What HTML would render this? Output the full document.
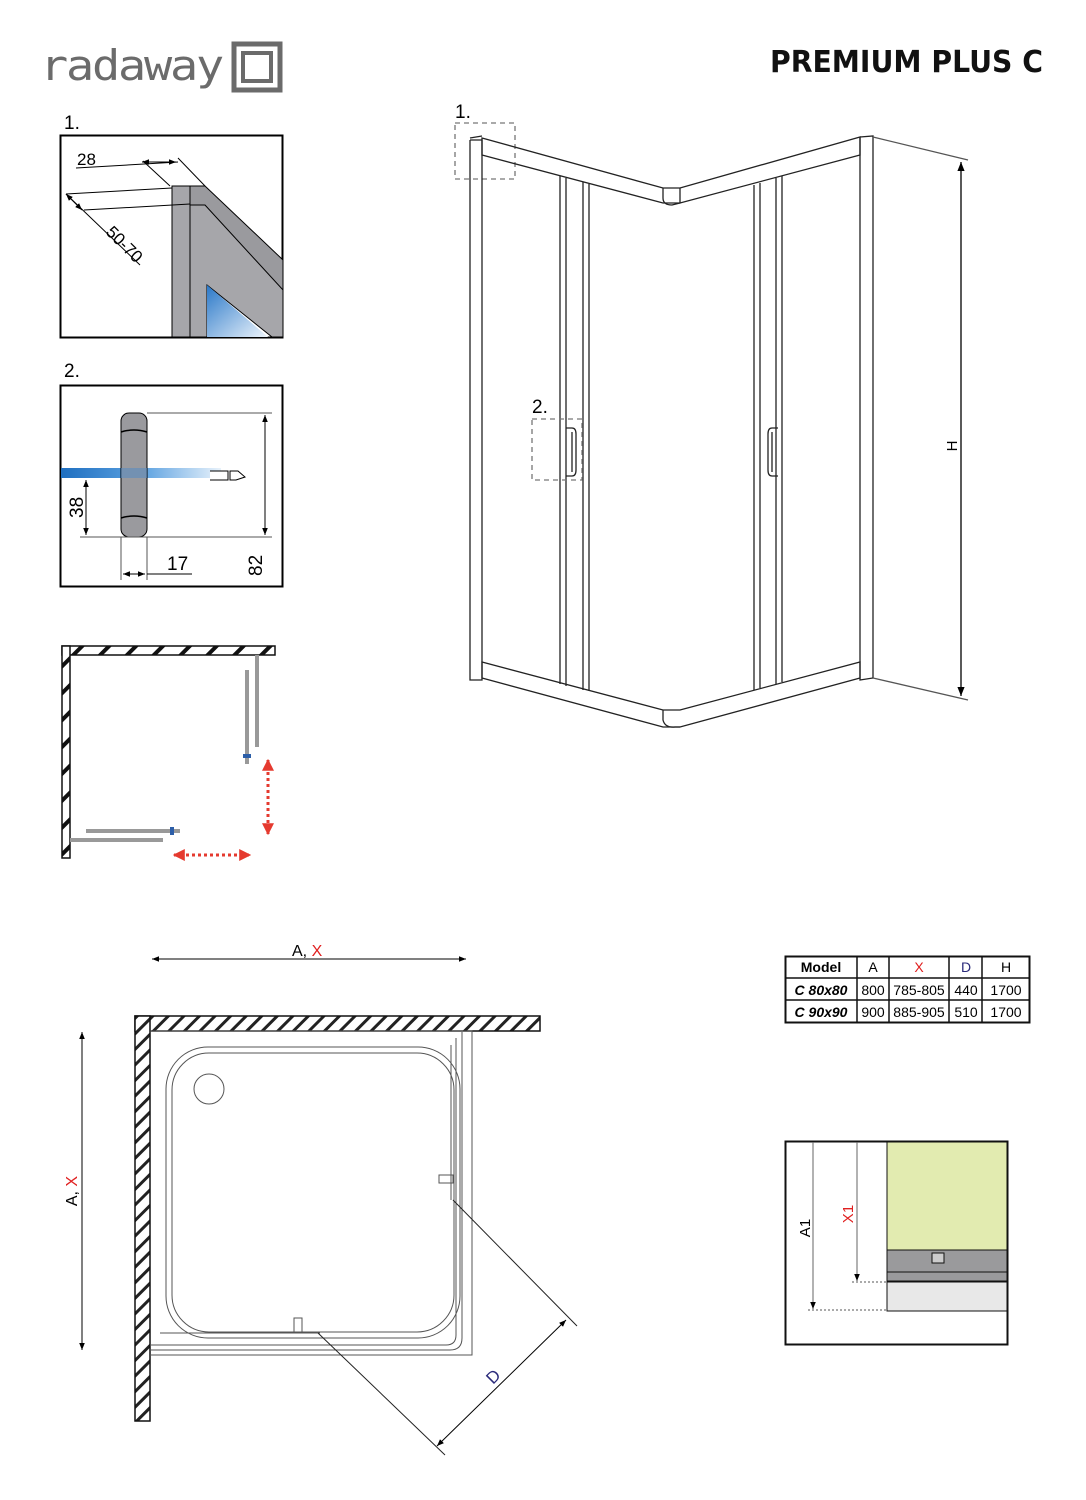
<!DOCTYPE html>
<html><head><meta charset="utf-8"><style>
html,body{margin:0;padding:0;background:#fff}
svg{display:block;font-family:"Liberation Sans",sans-serif}
</style></head><body>
<svg width="1086" height="1500" viewBox="0 0 1086 1500" xmlns="http://www.w3.org/2000/svg">
<defs>
<pattern id="h" width="19" height="19" patternUnits="userSpaceOnUse" patternTransform="rotate(45)">
<rect width="19" height="19" fill="#fff"/><rect width="4" height="19" fill="#111"/></pattern>
<pattern id="h2" width="11" height="11" patternUnits="userSpaceOnUse" patternTransform="rotate(45)">
<rect width="11" height="11" fill="#fff"/><rect width="3" height="11" fill="#222"/></pattern>
<linearGradient id="bl" x1="0" x2="1"><stop offset="0" stop-color="#1f6fc0"/><stop offset="0.5" stop-color="#5aa0e0"/><stop offset="1" stop-color="#e8f2fb"/></linearGradient>
<linearGradient id="bl2" x1="0" x2="1" y1="0" y2="1"><stop offset="0" stop-color="#2a78c8"/><stop offset="1" stop-color="#eef5fc"/></linearGradient>
<marker id="a" viewBox="0 0 10 10" refX="10" refY="5" markerWidth="7" markerHeight="7" orient="auto-start-reverse"><path d="M0,1 L10,5 L0,9z" fill="#000"/></marker>
<marker id="r" viewBox="0 0 10 10" refX="9" refY="5" markerWidth="4" markerHeight="4" orient="auto-start-reverse"><path d="M0,0 L10,5 L0,10z" fill="#e53a2f"/></marker>
</defs>

<!-- logo -->
<text x="40" y="80" font-size="42" fill="#6b6b6b" font-family="DejaVu Sans Mono,monospace" font-weight="normal" letter-spacing="-2" textLength="182" lengthAdjust="spacingAndGlyphs">radaway</text>
<rect x="234" y="44" width="46" height="46" fill="none" stroke="#6b6b6b" stroke-width="5"/>
<rect x="243" y="53" width="28" height="28" fill="none" stroke="#6b6b6b" stroke-width="4"/>
<text x="1043" y="72" font-size="30" font-weight="bold" text-anchor="end" fill="#111" font-family="DejaVu Sans,sans-serif" textLength="273" lengthAdjust="spacingAndGlyphs">PREMIUM PLUS C</text>

<!-- detail 1 -->
<text x="64" y="129" font-size="19">1.</text>
<rect x="60.5" y="135.5" width="222" height="202" fill="#fff" stroke="#000" stroke-width="2"/>
<polygon points="172,186 190,186 190,337 172,337" fill="#a6a6aa" stroke="#000"/>
<polygon points="190,205 207,205 283,275 283,337 272,337 207,285 207,337 190,337" fill="#a6a6aa" stroke="#000"/>
<polygon points="207,285 268,337 207,337" fill="url(#bl2)"/>
<polygon points="190,186 205,186 283,260 283,290 205,205 190,205" fill="#9a9a9e" stroke="#000"/>
<line x1="76" y1="168" x2="178" y2="162" stroke="#000"/>
<line x1="142" y1="162" x2="176" y2="162" stroke="#000" marker-end="url(#a)" marker-start="url(#a)"/>
<line x1="143" y1="161" x2="170" y2="186" stroke="#000"/>
<line x1="178" y1="158" x2="205" y2="186" stroke="#000"/>
<line x1="66" y1="194" x2="172" y2="188" stroke="#000"/>
<line x1="84" y1="210" x2="190" y2="204" stroke="#000"/>
<line x1="66" y1="194" x2="140" y2="265" stroke="#000"/>
<line x1="66" y1="194" x2="82" y2="210" stroke="#000" marker-start="url(#a)" marker-end="url(#a)"/>
<text x="77" y="165" font-size="17">28</text>
<text x="105" y="233" font-size="17" transform="rotate(45 105 233)">50-70</text>

<!-- detail 2 -->
<text x="64" y="377" font-size="19">2.</text>
<rect x="60.5" y="385.5" width="222" height="201" fill="#fff" stroke="#000" stroke-width="2"/>
<rect x="61" y="468" width="160" height="10" fill="url(#bl)"/>
<rect x="121" y="413" width="26" height="124" rx="8" fill="#9a9a9e" stroke="#000"/>
<rect x="121" y="468" width="26" height="10" fill="#5a8cc0" opacity=".6"/>
<path d="M121,432 Q134,428 147,432 M121,518 Q134,514 147,518" stroke="#000" fill="none" stroke-width="1.5"/>
<path d="M210,471 L228,471 L228,480 L210,480 M230,471 L238,471 L245,477 L236,480 L230,480z" stroke="#000" fill="#fff"/>
<line x1="147" y1="413" x2="272" y2="413" stroke="#555"/>
<line x1="80" y1="537" x2="272" y2="537" stroke="#555"/>
<line x1="265" y1="415" x2="265" y2="535" stroke="#000" marker-start="url(#a)" marker-end="url(#a)"/>
<line x1="86" y1="480" x2="86" y2="535" stroke="#000" marker-start="url(#a)" marker-end="url(#a)"/>
<line x1="121" y1="537" x2="121" y2="580" stroke="#555"/>
<line x1="147" y1="537" x2="147" y2="580" stroke="#555"/>
<line x1="123" y1="574" x2="145" y2="574" stroke="#000" marker-start="url(#a)" marker-end="url(#a)"/>
<line x1="147" y1="574" x2="192" y2="574" stroke="#000"/>
<text x="167" y="570" font-size="19">17</text>
<text x="83" y="518" font-size="19" transform="rotate(-90 83 518)">38</text>
<text x="262" y="576" font-size="19" transform="rotate(-90 262 576)">82</text>

<!-- small plan -->
<rect x="62" y="646" width="213" height="9" fill="url(#h)" stroke="#111" stroke-width="1.5"/>
<rect x="62" y="646" width="8" height="212" fill="url(#h)" stroke="#111" stroke-width="1.5"/>
<line x1="257" y1="655" x2="257" y2="747" stroke="#999" stroke-width="4"/>
<line x1="247" y1="670" x2="247" y2="764" stroke="#999" stroke-width="4"/>
<rect x="243" y="754" width="8" height="4" fill="#2c5ea8"/>
<line x1="70" y1="840" x2="163" y2="840" stroke="#999" stroke-width="4"/>
<line x1="86" y1="831" x2="180" y2="831" stroke="#999" stroke-width="4"/>
<rect x="170" y="827" width="4" height="8" fill="#2c5ea8"/>
<line x1="268" y1="760" x2="268" y2="834" stroke="#e53a2f" stroke-width="3" stroke-dasharray="3 3" marker-start="url(#r)" marker-end="url(#r)"/>
<line x1="174" y1="855" x2="250" y2="855" stroke="#e53a2f" stroke-width="3" stroke-dasharray="3 3" marker-start="url(#r)" marker-end="url(#r)"/>

<!-- main perspective -->
<g fill="none" stroke="#222" stroke-width="1.3">
<text x="455" y="118" font-size="19" fill="#000" stroke="none">1.</text>
<rect x="455" y="123" width="60" height="56" stroke="#777" stroke-dasharray="5 4"/>
<polyline points="470,140 470,680 482,680 482,140 470,140"/>
<line x1="470" y1="138" x2="482" y2="136"/>
<polygon points="482,138 663,188 680,188 860,137 860,155 680,203 663,203 482,155"/>
<path d="M663,188 L663,198 Q663,205 672,205 L680,203 L680,188"/>
<polyline points="860,137 873,136 873,678 860,680 860,137"/>
<polygon points="482,662 663,710 680,710 860,662 860,678 680,727 663,727 482,678"/>
<path d="M663,710 L663,720 Q665,728 675,727 L680,727"/>
<line x1="560" y1="176" x2="560" y2="684"/><line x1="566" y1="178" x2="566" y2="686"/>
<line x1="583" y1="182" x2="583" y2="690"/><line x1="589" y1="184" x2="589" y2="691"/>
<line x1="754" y1="185" x2="754" y2="690"/><line x1="760" y1="183" x2="760" y2="688"/>
<line x1="776" y1="178" x2="776" y2="684"/><line x1="782" y1="176" x2="782" y2="682"/>
<path d="M566,428 L572,428 Q576,428 576,434 L576,470 Q576,476 572,476 L566,476 M572,432 L572,472"/>
<path d="M778,428 L772,428 Q768,428 768,434 L768,470 Q768,476 772,476 L778,476 M772,432 L772,472"/>
<line x1="873" y1="137" x2="968" y2="160" stroke="#555"/>
<line x1="873" y1="678" x2="968" y2="700" stroke="#555"/>
<line x1="961" y1="162" x2="961" y2="696" stroke="#000" marker-start="url(#a)" marker-end="url(#a)"/>
<text x="532" y="413" font-size="19" fill="#000" stroke="none">2.</text>
<rect x="532" y="419" width="50" height="61" stroke="#777" stroke-dasharray="5 4"/>
</g>
<text x="957" y="446" font-size="15" transform="rotate(-90 957 446)" text-anchor="middle">H</text>

<!-- table -->
<g font-size="14" text-anchor="middle">
<rect x="785.5" y="956.5" width="244" height="66" fill="#fff" stroke="#111" stroke-width="2"/>
<line x1="786" y1="978" x2="1029" y2="978" stroke="#111" stroke-width="1.5"/>
<line x1="786" y1="1000" x2="1029" y2="1000" stroke="#111" stroke-width="1.5"/>
<g stroke="#111" stroke-width="1.5"><line x1="857" y1="957" x2="857" y2="1022"/><line x1="889" y1="957" x2="889" y2="1022"/><line x1="949" y1="957" x2="949" y2="1022"/><line x1="982" y1="957" x2="982" y2="1022"/></g>
<text x="821" y="972" font-weight="bold">Model</text><text x="873" y="972">A</text><text x="919" y="972" fill="#e02020">X</text><text x="966" y="972" fill="#2a2a7a">D</text><text x="1006" y="972">H</text>
<text x="821" y="995" font-weight="bold" font-style="italic">C 80x80</text><text x="873" y="995">800</text><text x="919" y="995">785-805</text><text x="966" y="995">440</text><text x="1006" y="995">1700</text>
<text x="821" y="1017" font-weight="bold" font-style="italic">C 90x90</text><text x="873" y="1017">900</text><text x="919" y="1017">885-905</text><text x="966" y="1017">510</text><text x="1006" y="1017">1700</text>
</g>

<!-- bottom right detail -->
<rect x="785.5" y="1141.5" width="222" height="203" fill="#fff" stroke="#111" stroke-width="2"/>
<rect x="887" y="1142" width="120" height="108" fill="#e2ebb0" stroke="#111"/>
<rect x="887" y="1250" width="120" height="31" fill="#9a9a9c" stroke="#111"/>
<line x1="887" y1="1272" x2="1007" y2="1272" stroke="#111"/>
<rect x="887" y="1282" width="120" height="29" fill="#e8e8e8" stroke="#111"/>
<rect x="932" y="1253" width="12" height="10" fill="#ccc" stroke="#111"/>
<line x1="813" y1="1142" x2="813" y2="1309" stroke="#666" marker-end="url(#a)"/>
<line x1="857" y1="1142" x2="857" y2="1281" stroke="#666" marker-end="url(#a)"/>
<line x1="808" y1="1310" x2="887" y2="1310" stroke="#555" stroke-dasharray="2 2"/>
<line x1="852" y1="1282" x2="887" y2="1282" stroke="#555" stroke-dasharray="2 2"/>
<text x="810" y="1228" font-size="15" transform="rotate(-90 810 1228)" text-anchor="middle">A1</text>
<text x="853" y="1214" font-size="15" fill="#e02020" transform="rotate(-90 853 1214)" text-anchor="middle">X1</text>

<!-- bottom plan -->
<line x1="152" y1="959" x2="466" y2="959" stroke="#000" marker-start="url(#a)" marker-end="url(#a)"/>
<text x="292" y="956" font-size="16">A, <tspan fill="#e02020">X</tspan></text>
<line x1="82" y1="1032" x2="82" y2="1350" stroke="#000" marker-start="url(#a)" marker-end="url(#a)"/>
<text x="77" y="1191" font-size="16" transform="rotate(-90 77 1191)" text-anchor="middle">A, <tspan fill="#e02020">X</tspan></text>
<rect x="135" y="1016" width="405" height="15" fill="url(#h2)" stroke="#111" stroke-width="1.5"/>
<rect x="135" y="1016" width="15" height="405" fill="url(#h2)" stroke="#111" stroke-width="1.5"/>
<g fill="none" stroke="#555" stroke-width="1">
<path d="M150,1031 L472,1031 L472,1355 L150,1355"/>
<rect x="166" y="1047" width="294" height="291" rx="42"/>
<rect x="172" y="1053" width="282" height="279" rx="37"/>
<circle cx="209" cy="1089" r="15"/>
<path d="M456,1038 L456,1335 Q456,1345 446,1345 L150,1345"/>
<path d="M462,1032 L462,1338 Q462,1350 450,1350 L150,1350"/>
<line x1="451" y1="1045" x2="451" y2="1200"/>
<line x1="160" y1="1333" x2="320" y2="1333"/>
<rect x="439" y="1175" width="14" height="8"/>
<rect x="294" y="1318" width="8" height="14"/>
<line x1="453" y1="1200" x2="577" y2="1326" stroke="#222"/>
<line x1="318" y1="1333" x2="445" y2="1455" stroke="#222"/>
</g>
<line x1="437" y1="1446" x2="566" y2="1320" stroke="#000" marker-start="url(#a)" marker-end="url(#a)"/>
<text x="493" y="1385" font-size="17" fill="#2a2a7a" transform="rotate(-45 493 1385)">D</text>
</svg>
</body></html>
